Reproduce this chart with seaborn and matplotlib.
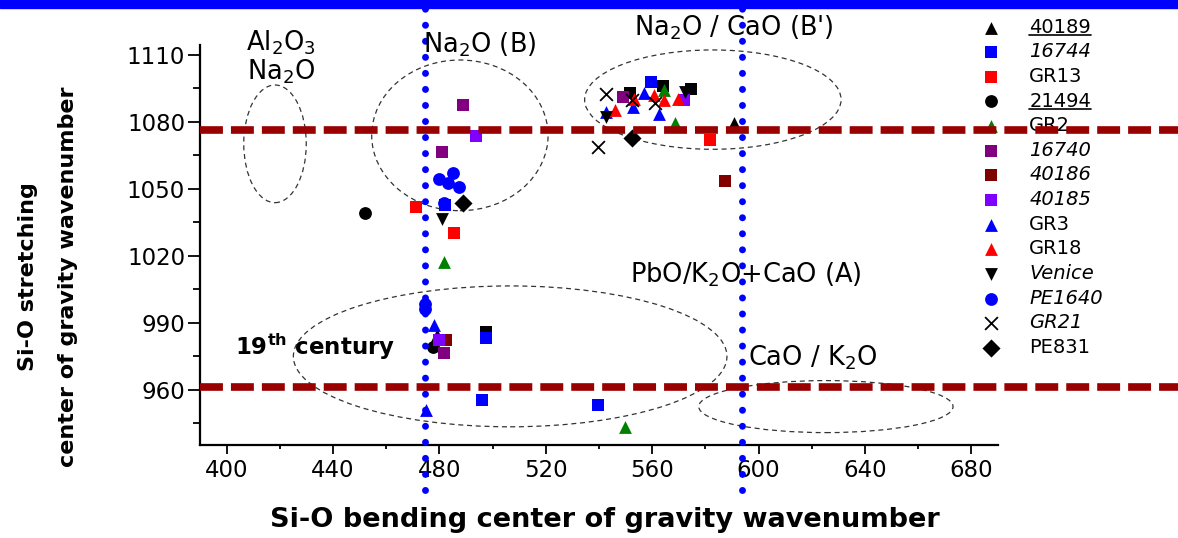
import matplotlib
matplotlib.use('Agg')
import matplotlib.pyplot as plt
import numpy as np
import pandas as pd
import seaborn as sns
from matplotlib.patches import Ellipse, Rectangle
from matplotlib.lines import Line2D
from matplotlib.ticker import MultipleLocator

# series in legend order (first one is hidden under the top band in the original)
names = ["33337", "40189", "16744", "GR13", "21494", "GR2", "16740", "40186",
         "40185", "GR3", "GR18", "Venice", "PE1640", "GR21", "PE831"]
colors = ["#000000", "#000000", "#0000ff", "#ff0000", "#000000", "#008000", "#800080",
          "#800000", "#8000ff", "#0000ff", "#ff0000", "#000000", "#0000ff", "#000000", "#000000"]
markers = ["s", "^", "s", "s", "o", "^", "s", "s", "s", "^", "^", "v", "o", "x", "D"]
label_style = ["normal", "underline", "italic", "normal", "underline", "normal", "italic",
               "italic", "italic", "normal", "normal", "italic", "italic", "italic", "normal"]

bend = {
    "33337": [551.6, 564.0, 574.7, 497.7],
    "40189": [590.6, 479.0],
    "16744": [559.6, 482.0, 497.7, 496.0, 539.6],
    "GR13": [581.6, 471.2, 485.6],
    "21494": [451.9, 477.5],
    "GR2": [564.6, 568.4, 481.9, 549.8],
    "16740": [549.0, 488.8, 480.8, 481.9],
    "40186": [587.5, 482.5],
    "40185": [571.8, 493.7, 480.0],
    "GR3": [557.0, 552.8, 542.7, 562.5, 478.1, 475.0],
    "GR18": [560.6, 564.6, 569.7, 553.0, 546.2],
    "Venice": [542.7, 572.5, 480.8],
    "PE1640": [480.0, 485.2, 483.1, 487.5, 481.9, 474.7, 474.7],
    "GR21": [542.7, 552.5, 561.2, 539.7],
    "PE831": [552.5, 488.8],
}
stretch = {
    "33337": [1093.1, 1096.1, 1094.6, 986.1],
    "40189": [1079.4, 984.6],
    "16744": [1097.8, 1042.8, 983.1, 955.5, 953.3],
    "GR13": [1071.9, 1041.8, 1030.2],
    "21494": [1039.1, 979.4],
    "GR2": [1094.3, 1079.4, 1017.4, 943.5],
    "16740": [1091.3, 1087.6, 1066.7, 976.4],
    "40186": [1053.7, 982.4],
    "40185": [1089.8, 1073.7, 982.4],
    "GR3": [1093.1, 1086.8, 1084.3, 1083.4, 989.1, 951.0],
    "GR18": [1092.1, 1089.8, 1090.2, 1090.2, 1085.4],
    "Venice": [1082.4, 1093.6, 1036.4],
    "PE1640": [1054.3, 1057.0, 1052.5, 1051.0, 1043.9, 998.3, 996.0],
    "GR21": [1092.5, 1089.8, 1088.6, 1068.9],
    "PE831": [1072.7, 1043.9],
}

# reference lines
hlines = [1076.2, 961.1]
vlines = [474.7, 593.6]

# dashed ellipses: (center x, center y, width, height)
ellipses = [(418.2, 1070.2, 23.5, 52.7),
            (487.7, 1074.0, 66.3, 67.5),
            (582.8, 1090.0, 96.4, 44.5),
            (506.6, 975.0, 163.0, 63.1),
            (625.3, 952.5, 95.6, 23.3)]

# group labels: (text, x, y, ha)
notes = [(r"Al$_2$O$_3$", 420.4, 1115.4, "center"),
         (r"Na$_2$O", 420.4, 1102.5, "center"),
         (r"Na$_2$O (B)", 474.0, 1114.5, "left"),
         (r"Na$_2$O / CaO (B')", 553.1, 1122.0, "left"),
         (r"PbO/K$_2$O+CaO (A)", 551.8, 1011.5, "left"),
         (r"CaO / K$_2$O", 596.0, 974.2, "left")]

sns.set_style("ticks")
plt.rcParams["font.family"] = ["DejaVu Sans"]
plt.rcParams["mathtext.fontset"] = "dejavusans"
for k in ["text.color", "axes.labelcolor", "xtick.color", "ytick.color"]:
    plt.rcParams[k] = "black"

W, H = 1178, 538
fig = plt.figure(figsize=(W / 100, H / 100), dpi=100)
ax = fig.add_axes([200 / W, 1 - 445 / H, 798 / W, 400.3 / H])

for i, name in enumerate(names):
    kw = dict(s=85, linewidth=0)
    if markers[i] == "x":
        kw = dict(s=85, linewidth=1.3)
    sns.scatterplot(x=bend[name], y=stretch[name], marker=markers[i], color=colors[i],
                    label=name, ax=ax, zorder=3, **kw)

ax.set_xlim(390, 690)
ax.set_ylim(935.3, 1114.6)
ax.xaxis.set_major_locator(MultipleLocator(40))
ax.xaxis.set_minor_locator(MultipleLocator(20))
ax.yaxis.set_major_locator(MultipleLocator(30))
ax.yaxis.set_minor_locator(MultipleLocator(15))
ax.tick_params(axis="x", which="major", length=6.2, width=1.3, labelsize=16.5, pad=4)
ax.tick_params(axis="x", which="minor", length=3, width=1.3)
ax.tick_params(axis="y", which="major", length=8.7, width=1.3, labelsize=16.5, pad=2)
ax.tick_params(axis="y", which="minor", length=5, width=1.3)
sns.despine(ax=ax)
for sp in ["left", "bottom"]:
    ax.spines[sp].set_linewidth(1.6)
    ax.spines[sp].set_color("black")
ax.set_xlabel("")
ax.set_ylabel("")

for cx, cy, w, h in ellipses:
    ax.add_patch(Ellipse((cx, cy), w, h, fill=False, ls=(0, (4, 3)), lw=0.9,
                         edgecolor="#333333", zorder=2))

# dotted blue verticals run past the axes, dashed red horizontals to the figure edge
for xv in vlines:
    ax.plot([xv, xv], [-0.112, 1.092], transform=ax.get_xaxis_transform(), color="#0000ff",
            lw=5, ls=(0, (0.01, 2.3)), dash_capstyle="round", clip_on=False, zorder=4)
for yv in hlines:
    ax.plot([0, (W - 200) / 798], [yv, yv], transform=ax.get_yaxis_transform(), color="#990000",
            lw=5.5, ls=(0, (3.0, 1.05)), clip_on=False, zorder=6)

for txt, x, y, ha in notes:
    ax.text(x, y, txt, ha=ha, va="center", fontsize=18.5, clip_on=False, zorder=5)
ax.text(403, 979.2, r"$\mathbf{19^{th}}$ century", fontsize=16.5, fontweight="bold",
        ha="left", va="center", zorder=5)

leg = ax.legend(loc="upper left", bbox_to_anchor=(981.6 / W, 1 + 7 / H),
                bbox_transform=fig.transFigure, frameon=False, fontsize=14,
                handlelength=1.0, handletextpad=1.45, labelspacing=0.29, borderpad=0,
                borderaxespad=0, markerscale=1.0)
leg.set_zorder(5)
for t, st in zip(leg.get_texts(), label_style):
    if st == "italic":
        t.set_fontstyle("italic")

fig.text(605 / W, 1 - 520 / H, "Si-O bending center of gravity wavenumber",
         ha="center", va="center", fontsize=19.5, fontweight="bold")
fig.text(48 / W, 1 - 277 / H, "Si-O stretching\ncenter of gravity wavenumber",
         ha="center", va="center", rotation=90, fontsize=16, fontweight="bold",
         linespacing=2.25, multialignment="center")

# blue band across the top
fig.add_artist(Rectangle((0, 1 - 8 / H), 1, 8 / H, transform=fig.transFigure,
                         color="#0000ff", zorder=20))

# underline the two underlined legend labels
fig.canvas.draw()
rend = fig.canvas.get_renderer()
inv = fig.transFigure.inverted()
for t, st in zip(leg.get_texts(), label_style):
    if st == "underline":
        bb = t.get_window_extent(rend)
        (x0, y0), (x1, _) = inv.transform([[bb.x0, bb.y0 + 2], [bb.x1, bb.y0]])
        fig.add_artist(Line2D([x0, x1], [y0, y0], transform=fig.transFigure,
                              color="black", lw=1.2))

fig.savefig("out.png", dpi=100)
plt.close(fig)
